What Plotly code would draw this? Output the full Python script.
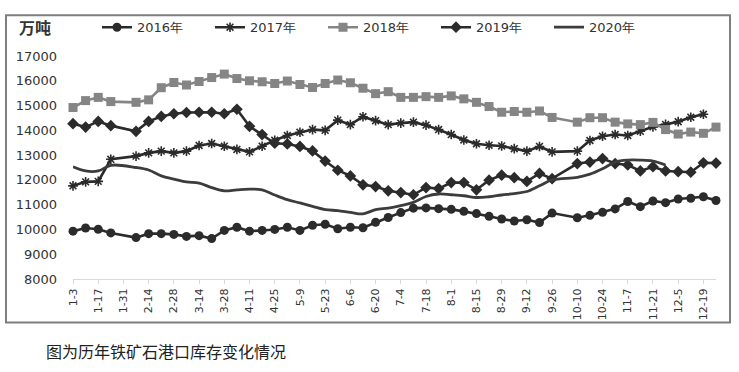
import plotly.graph_objects as go

weeks = list(range(52))
tick_labels = ["1-3", "1-17", "1-31", "2-14", "2-28", "3-14", "3-28", "4-11", "4-25",
               "5-9", "5-23", "6-6", "6-20", "7-4", "7-18", "8-1", "8-15", "8-29",
               "9-12", "9-26", "10-10", "10-24", "11-7", "11-21", "12-5", "12-19"]
tick_pos = list(range(0, 52, 2))
y_ticks = [8000, 9000, 10000, 11000, 12000, 13000, 14000, 15000, 16000, 17000]

y2016 = [9930, 10060, 10010, 9860, None, 9670, 9830, 9830, 9800, 9720, 9750, 9630,
         9960, 10090, 9930, 9960, 10000, 10090, 9960, 10170, 10210, 10030, 10090, 10070,
         10290, 10480, 10680, 10860, 10870, 10840, 10810, 10730, 10640, 10530, 10420, 10340,
         10390, 10280, 10660, None, 10470, 10570, 10690, 10830, 11130, 10920, 11150, 11080,
         11230, 11260, 11320, 11170]
y2017 = [11760, 11920, 11940, 12830, None, 12960, 13090, 13160, 13090, 13160, 13390, 13470,
         13360, 13230, 13130, 13360, 13600, 13790, 13920, 14030, 14000, 14410, 14230, 14550,
         14390, 14230, 14290, 14330, 14210, 14030, 13830, 13610, 13460, 13400, 13370, 13260,
         13160, 13350, 13130, None, 13160, 13590, 13760, 13830, 13790, 13960, 14140, 14240,
         14350, 14530, 14650, None]
y2018 = [14920, 15200, 15330, 15160, None, 15130, 15230, 15720, 15930, 15830, 15970, 16130,
         16270, 16090, 16000, 15960, 15890, 15990, 15850, 15730, 15890, 16030, 15920, 15700,
         15480, 15560, 15330, 15330, 15360, 15330, 15390, 15270, 15130, 14960, 14730, 14760,
         14730, 14780, 14520, None, 14330, 14510, 14510, 14330, 14260, 14230, 14320, 14030,
         13850, 13930, 13880, 14130]
y2019 = [14270, 14130, 14360, 14190, None, 13960, 14360, 14560, 14670, 14720, 14730, 14730,
         14670, 14850, 14160, 13830, 13480, 13450, 13350, 13170, 12760, 12390, 12160, 11800,
         11730, 11560, 11490, 11400, 11690, 11650, 11890, 11890, 11600, 11990, 12190, 12090,
         11940, 12260, 12050, None, 12660, 12720, 12860, 12660, 12600, 12360, 12530, 12360,
         12330, 12310, 12690, 12680]
y2020 = [12530, 12360, 12360, 12590, None, 12500, 12400, 12160, 12030, 11920, 11870, 11690,
         11560, 11600, 11630, 11600, 11390, 11200, 11070, 10930, 10800, 10760, 10690, 10630,
         10800, 10860, 10960, 11090, 11330, 11430, 11400, 11360, 11290, 11320, 11390, 11450,
         11530, 11760, 12000, None, 12100, 12230, 12450, 12720, 12800, 12800, 12760, 12600,
         None, None, None, None]

series = [
    ("2016年", y2016, "#2b2b2b", "circle", 9, "linear"),
    ("2017年", y2017, "#2b2b2b", "asterisk-open", 8, "linear"),
    ("2018年", y2018, "#858585", "square", 9, "linear"),
    ("2019年", y2019, "#2b2b2b", "diamond", 9, "linear"),
    ("2020年", y2020, "#3c3c3c", None, 0, "spline"),
]

fig = go.Figure()
for name, ys, color, sym, msize, shape in series:
    xs = [w for w, v in zip(weeks, ys) if v is not None]
    vs = [v for v in ys if v is not None]
    if sym is None:
        fig.add_trace(go.Scatter(x=xs, y=vs, name=name, mode="lines",
                                 line=dict(color=color, width=2.8, shape=shape),
                                 cliponaxis=False))
    else:
        mk = dict(symbol=sym, size=msize, color=color)
        if sym == "asterisk-open":
            mk["line"] = dict(color=color, width=1.6)
        fig.add_trace(go.Scatter(x=xs, y=vs, name=name, mode="lines+markers",
                                 line=dict(color=color, width=2.6, shape=shape),
                                 marker=mk, cliponaxis=False))

L, R, T, B = 73, 716, 54, 279
W, H = 739, 372

def px(x):
    return (x - L) / (R - L)

def py(y):
    return (B - y) / (B - T)

bx0, bx1, by0, by1 = px(6), px(730), py(323), py(13)
border_path = "M {0},{1} L {2},{1} L {2},{3} L {0},{3} Z".format(bx0, by0, bx1, by1)

fig.update_layout(
    width=W, height=H,
    margin=dict(l=L, r=W - R, t=T, b=H - B, pad=0),
    paper_bgcolor="white", plot_bgcolor="white",
    font=dict(family="DejaVu Sans", color="#333333"),
    showlegend=True,
    legend=dict(orientation="h", x=px(97), y=py(25), xanchor="left", yanchor="middle",
                font=dict(size=13, color="#333333", family="DejaVu Sans"),
                entrywidth=68, entrywidthmode="pixels",
                bgcolor="rgba(0,0,0,0)", traceorder="normal"),
    xaxis=dict(range=[0, 51], tickmode="array", tickvals=tick_pos, ticktext=tick_labels,
               tickangle=-90, tickfont=dict(size=11, family="DejaVu Sans", color="#333333"),
               showgrid=False, zeroline=False, showline=True, linecolor="#d9d9d9",
               linewidth=1, ticks="outside", ticklen=4, tickcolor="#d9d9d9"),
    yaxis=dict(range=[8000, 17000], tickmode="array", tickvals=y_ticks,
               ticktext=[str(v) for v in y_ticks],
               tickfont=dict(size=13, family="DejaVu Sans", color="#333333"),
               showgrid=False, zeroline=False, showline=False, ticks="",
               ticklabelstandoff=15),
    shapes=[dict(type="path", xref="paper", yref="paper", path=border_path,
                 line=dict(color="#7f7f7f", width=2), fillcolor="rgba(0,0,0,0)",
                 layer="above")],
    annotations=[
        dict(text="<b>万吨</b>", xref="paper", yref="paper", x=px(17), y=py(25),
             xanchor="left", yanchor="middle", showarrow=False,
             font=dict(size=16, family="Noto Sans CJK SC", color="#333333")),
        dict(text="图为历年铁矿石港口库存变化情况", xref="paper", yref="paper",
             x=px(44), y=py(352), xanchor="left", yanchor="middle", showarrow=False,
             font=dict(size=16, family="Noto Sans CJK SC", color="#222222")),
    ],
)

fig.write_html("out.html", config={"displayModeBar": False},
               post_script="document.body.style.margin='0';document.body.style.overflow='hidden';")
